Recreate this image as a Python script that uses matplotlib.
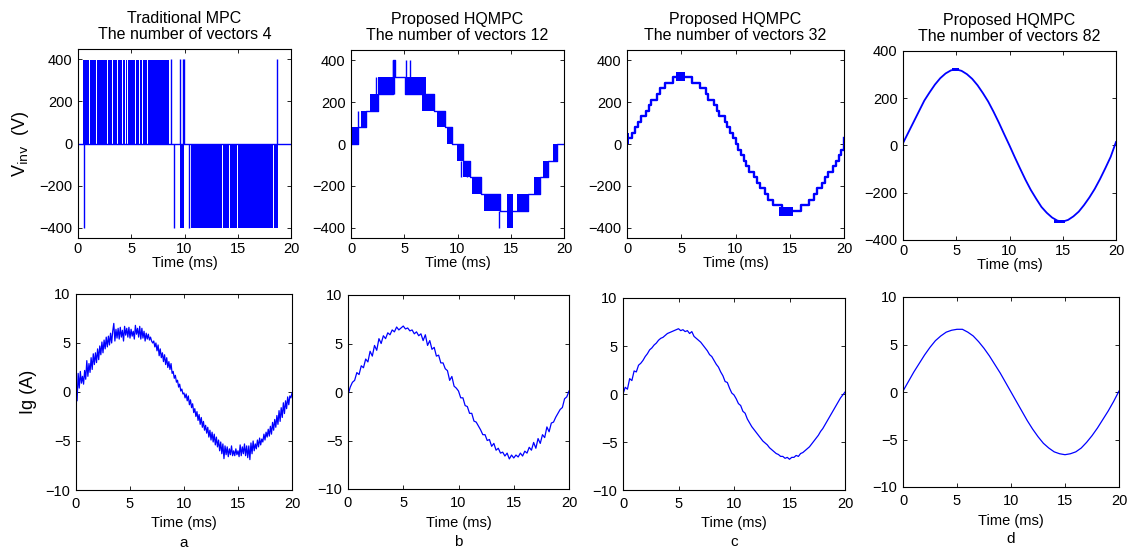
import numpy as np
import matplotlib.pyplot as plt

plt.rcParams['font.family'] = ['Liberation Sans', 'DejaVu Sans']
plt.rcParams['font.size'] = 10.5

BLUE = (0, 0, 1)

titles = ["Traditional MPC\nThe number of vectors 4",
          "Proposed HQMPC\nThe number of vectors 12",
          "Proposed HQMPC\nThe number of vectors 32",
          "Proposed HQMPC\nThe number of vectors 82"]
letters = ["a", "b", "c", "d"]

# ---- inverter voltage, panel a (2-level switching) ----
# dense switching bands: (t0, t1, low, high)  [ms, V]
va_bands = [(0.5, 1.03, 0, 400), (1.09, 1.72, 0, 400), (1.78, 2.76, 0, 400),
            (2.82, 3.23, 0, 400), (3.29, 3.69, 0, 400), (3.75, 4.16, 0, 400),
            (4.22, 4.41, 0, 400), (4.47, 4.63, 0, 400), (4.69, 5.35, 0, 400),
            (5.41, 5.73, 0, 400), (5.79, 6.04, 0, 400), (6.10, 6.51, 0, 400),
            (6.57, 8.23, 0, 400), (8.29, 8.50, 0, 400),
            (9.55, 9.98, -400, 0),
            (10.6, 12.93, -400, 0), (12.99, 13.56, -400, 0), (13.62, 14.18, -400, 0),
            (14.24, 14.71, -400, 0), (14.77, 14.93, -400, 0), (14.99, 15.18, -400, 0),
            (15.24, 15.65, -400, 0), (15.71, 16.12, -400, 0), (16.18, 18.31, -400, 0),
            (18.37, 18.80, -400, 0)]
va_spikes = [(0.6, -400, 0), (8.7, 0, 400), (9.05, -400, 0), (9.57, 0, 400),
             (9.85, 0, 400), (9.95, 0, 400), (10.4, -400, 0), (18.65, 0, 400)]
va_hold_t = [0, 20]
va_hold_v = [0, 0]

# ---- panel b (12 vectors, 80 V steps) ----
vb_bands = [(0.05, 0.69, 0, 80), (0.9, 1.4, 80, 160), (1.78, 2.56, 160, 240),
            (2.56, 3.97, 240, 320), (5.1, 6.65, 240, 320), (6.65, 7.05, 160, 320),
            (7.05, 7.8, 160, 240), (8.05, 8.85, 80, 160), (8.98, 9.45, 0, 80),
            (9.92, 10.5, -80, 0), (10.55, 11.17, -160, -80), (11.33, 12.18, -240, -160),
            (12.49, 14.0, -320, -240), (14.62, 15.24, -400, -240), (15.56, 16.65, -320, -240),
            (17.21, 17.75, -240, -160), (18.06, 18.53, -160, -80), (18.99, 19.31, -80, 0)]
vb_spikes = [(0.69, 80, 160), (2.35, 240, 320), (3.97, 240, 400), (4.05, 240, 400),
             (5.17, 240, 400), (5.55, 240, 400), (10.34, -160, -80), (10.86, -160, -80),
             (13.9, -400, -320)]
vb_hold_t = [0, 0.69, 1.4, 2.56, 3.97, 4.1, 5.1, 7.8, 8.85, 9.45, 10.5, 11.2,
             12.2, 14.0, 14.6, 15.24, 16.65, 17.75, 18.53, 19.31, 20]
vb_hold_v = [0, 80, 160, 240, 400, 320, 240, 160, 80, 0, -80, -160,
             -240, -320, -320, -320, -240, -160, -80, 0, 0]

# ---- panel c (32 vectors), staircase read every 0.25 ms ----
vc_t = np.arange(0, 20.01, 0.25)
vc_v = [27,
        27, 53, 80, 107, 133, 133, 160, 187, 213, 213,
        240, 267, 267, 293, 293, 293, 320, 320, 320, 320,
        320, 320, 320, 293, 293, 293, 267, 267, 240, 213,
        213, 187, 160, 133, 133, 107, 80, 53, 27, 0,
        -27, -53, -80, -107, -133, -133, -160, -187, -213, -213,
        -240, -267, -267, -293, -293, -293, -320, -320, -320, -320,
        -320, -320, -320, -293, -293, -293, -267, -267, -240, -213,
        -213, -187, -160, -133, -133, -107, -80, -53, -27, 27]
vc_bands = [(0.0, 0.2, 0, 53), (4.5, 5.3, 300, 345), (14.0, 15.3, -345, -300)]

# ---- panel d (82 vectors), read every 0.5 ms ----
vd_t = np.arange(0, 20.01, 0.5)
vd_v = [10, 55, 100, 145, 190, 225, 258, 285, 305, 318, 322, 316, 302, 282, 255,
        222, 186, 143, 97, 48, 0, -50, -98, -145, -188, -225, -260, -285, -305,
        -318, -322, -315, -300, -280, -252, -220, -184, -142, -96, -48, 15]
vd_bands = [(0.0, 0.08, 0, 70), (4.6, 5.3, 315, 330), (14.2, 15.2, -330, -315)]

# ---- grid current ----
ia_t = np.arange(0, 20.001, 0.1)
ia = [-0.3, -0.9, 1.9, 0.4, 2.1, 0.9, 1.6, 0.8, 2.2, 1.3,
      3.2, 1.6, 2.9, 2.0, 3.5, 2.3, 3.9, 2.8, 4.0, 3.0,
      4.4, 3.3, 4.7, 3.8, 5.1, 4.0, 5.3, 4.4, 5.6, 4.6,
      5.7, 4.8, 6.0, 5.0, 6.2, 7.0, 5.2, 6.4, 5.5, 6.5,
      5.4, 6.6, 5.6, 6.3, 5.2, 6.7, 5.8, 6.5, 5.6, 6.6,
      5.5, 6.4, 5.7, 6.2, 5.4, 6.8, 5.9, 6.5, 5.6, 6.7,
      5.4, 6.5, 5.5, 6.2, 5.2, 6.0, 5.4, 5.9, 5.3, 5.6,
      5.2, 5.0, 5.2, 4.6, 5.0, 4.2, 4.8, 3.7, 4.4, 3.5,
      4.0, 3.1, 3.8, 2.8, 3.5, 2.5, 3.1, 2.3, 2.9, 1.9,
      2.1, 1.4, 1.7, 1.0, 1.2, 0.5, 0.8, 0.1, 0.3, -0.2,
      -0.1, -0.6, -0.2, -0.9, -0.4, -1.3, -0.8, -1.6, -1.2, -2.1,
      -1.7, -2.5, -2.0, -2.9, -2.3, -3.3, -2.6, -3.6, -3.0, -3.9,
      -3.4, -4.2, -3.6, -4.6, -3.9, -4.9, -4.1, -5.1, -4.3, -5.4,
      -4.6, -5.6, -4.9, -6.0, -5.1, -6.3, -5.3, -6.8, -5.5, -6.4,
      -5.6, -6.6, -5.8, -6.4, -5.5, -6.5, -6.0, -6.5, -5.8, -6.4,
      -6.0, -6.6, -5.4, -6.5, -5.6, -6.3, -5.3, -6.5, -5.5, -6.7,
      -5.5, -6.9, -5.2, -6.3, -5.0, -6.0, -5.3, -5.8, -4.9, -5.6,
      -4.7, -5.4, -4.8, -5.1, -4.3, -4.9, -4.1, -4.6, -3.8, -4.5,
      -3.5, -4.3, -3.1, -3.9, -2.8, -3.6, -2.4, -3.3, -1.9, -3.0,
      -1.6, -2.6, -1.1, -2.2, -0.9, -1.7, -0.5, -1.3, -0.4, -0.6,
      -0.1]

ib_t = np.arange(0, 20.001, 0.2)
ib = [-0.3, 0.5, 1.0, 1.2, 2.0, 1.8, 2.7, 2.5, 3.4, 3.1,
      4.2, 3.7, 4.8, 4.3, 5.5, 5.0, 5.8, 5.5, 6.1, 5.9,
      6.4, 6.2, 6.7, 6.4, 6.6, 6.8, 6.5, 6.6, 6.3, 6.4,
      6.0, 6.2, 5.8, 6.0, 5.3, 5.9, 4.8, 5.3, 4.4, 4.6,
      3.7, 3.8, 3.0, 3.0, 2.4, 2.2, 1.2, 1.6, 0.6, 0.4,
      0.1, -0.6, -0.6, -1.4, -1.5, -2.2, -2.2, -3.0, -3.1, -3.5,
      -3.9, -4.4, -4.4, -5.0, -4.9, -5.6, -5.3, -6.0, -5.8, -6.3,
      -6.2, -6.6, -6.3, -6.9, -6.5, -6.8, -6.5, -6.7, -6.3, -6.6,
      -6.1, -6.3, -5.7, -6.0, -5.2, -5.8, -4.8, -5.3, -4.4, -4.7,
      -3.6, -4.1, -3.2, -3.1, -2.6, -2.2, -1.8, -1.6, -0.7, -0.5,
      0.1]

ic_t = np.arange(0, 20.001, 0.2)
ic = [0.0, 0.7, 0.5, 1.6, 1.4, 2.4, 2.3, 3.0, 3.2, 3.5,
      3.9, 4.2, 4.6, 4.8, 5.1, 5.3, 5.6, 5.8, 5.9, 6.1,
      6.3, 6.4, 6.5, 6.6, 6.7, 6.8, 6.6, 6.7, 6.5, 6.6,
      6.3, 6.5, 6.0, 5.8, 5.6, 5.4, 5.1, 4.8, 4.5, 4.1,
      3.9, 3.5, 3.1, 2.8, 2.3, 1.9, 1.3, 1.2, 0.6, 0.1,
      -0.1, -0.5, -1.0, -1.2, -1.8, -2.0, -2.6, -3.0, -3.4, -3.7,
      -4.0, -4.3, -4.6, -4.9, -5.1, -5.3, -5.6, -5.8, -6.0, -6.2,
      -6.3, -6.5, -6.5, -6.7, -6.6, -6.8, -6.6, -6.6, -6.4, -6.5,
      -6.2, -6.1, -5.9, -5.7, -5.5, -5.2, -4.9, -4.6, -4.3, -3.9,
      -3.6, -3.2, -2.8, -2.4, -2.0, -1.6, -1.2, -0.8, -0.4, -0.1,
      0.2]

id_t = np.arange(0, 20.001, 0.5)
id_ = [0.1, 1.1, 2.1, 3.0, 3.9, 4.7, 5.4, 5.9, 6.3, 6.5, 6.6, 6.6, 6.3, 5.9, 5.3,
       4.6, 3.8, 2.9, 2.0, 1.0, 0.0, -1.0, -2.0, -3.0, -3.9, -4.7, -5.4, -5.9,
       -6.3, -6.5, -6.6, -6.5, -6.3, -5.9, -5.3, -4.6, -3.8, -2.9, -2.0, -1.0, 0.1]

W, H = 1130, 553
top_px = [(78, 49, 291, 238), (351, 50, 564, 238), (627, 50, 844, 238), (903, 51, 1116, 240)]
bot_px = [(76, 294, 292, 490), (348, 295, 569, 489), (623, 298, 845, 490), (903, 297, 1119, 487)]


def rect(p):
    l, t, r, b = p
    return [l / W, 1 - b / H, (r - l) / W, (b - t) / H]


def style(ax, pad, lpad):
    ax.tick_params(direction='in', top=True, right=True, length=3, width=0.6,
                   labelsize=10.5, pad=4)
    ax.tick_params(axis='x', pad=pad)
    for s in ax.spines.values():
        s.set_linewidth(0.8)
    ax.set_xlim(0, 20)
    ax.set_xticks([0, 5, 10, 15, 20])
    ax.set_xlabel("Time (ms)", fontsize=10.5, labelpad=lpad)


def draw_bands(ax, bands, spikes=()):
    for t0, t1, lo, hi in bands:
        ax.fill_between([t0, t1], lo, hi, color=BLUE, lw=0)
    for t, lo, hi in spikes:
        ax.vlines(t, lo, hi, color=BLUE, lw=1.0)


fig = plt.figure(figsize=(W / 100, H / 100), dpi=100)

vdata = [(va_hold_t, va_hold_v, va_bands, va_spikes),
         (vb_hold_t, vb_hold_v, vb_bands, vb_spikes)]
for i in range(4):
    ax = fig.add_axes(rect(top_px[i]))
    if i < 2:
        ht, hv, bands, spikes = vdata[i]
        ax.step(ht, hv, where='post', color=BLUE, lw=1.0)
        draw_bands(ax, bands, spikes)
        ax.set_ylim(-450, 450)
    elif i == 2:
        ax.step(vc_t, vc_v, where='post', color=BLUE, lw=1.7)
        draw_bands(ax, vc_bands)
        ax.set_ylim(-450, 450)
    else:
        ax.plot(vd_t, vd_v, color=BLUE, lw=1.3)
        draw_bands(ax, vd_bands)
        ax.set_ylim(-400, 400)
    ax.set_yticks([-400, -200, 0, 200, 400])
    style(ax, 3, 0)
    ax.set_title(titles[i], fontsize=11.5, pad=7, linespacing=1.1)
    if i == 0:
        ax.set_ylabel(r"V$_{\rm inv}$  (V)", fontsize=13, labelpad=6)

idata = [(ia_t, ia), (ib_t, ib), (ic_t, ic), (id_t, id_)]
for i in range(4):
    ax = fig.add_axes(rect(bot_px[i]))
    t, y = idata[i]
    ax.plot(t, y, color=BLUE, lw=0.9)
    ax.set_ylim(-10, 10)
    ax.set_yticks([-10, -5, 0, 5, 10])
    style(ax, 5, 4)
    ax.text(0.5, -0.235, letters[i], transform=ax.transAxes, ha='center',
            va='top', fontsize=11)
    if i == 0:
        ax.set_ylabel("Ig (A)", fontsize=13, labelpad=6)

fig.savefig("out.png", dpi=100)
